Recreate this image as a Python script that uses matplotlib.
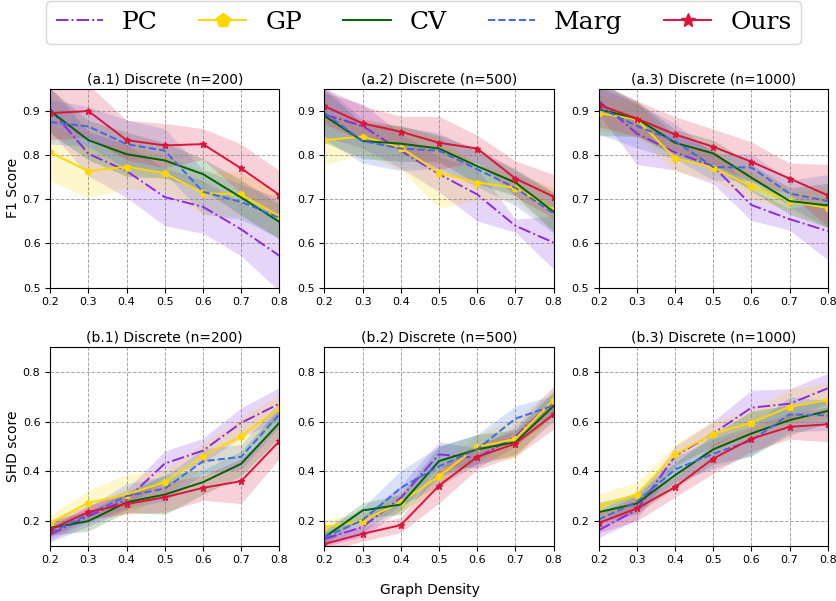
import matplotlib
matplotlib.use("Agg")
import matplotlib.pyplot as plt
import numpy as np

DENSITY = [0.2, 0.3, 0.4, 0.5, 0.6, 0.7, 0.8]
METHODS = ["PC", "GP", "CV", "Marg", "Ours"]

# F1 score, mean and std per method
F1_200_MEAN = {
    "PC": [0.905, 0.803, 0.764, 0.705, 0.683, 0.632, 0.572],
    "GP": [0.806, 0.764, 0.774, 0.759, 0.714, 0.711, 0.662],
    "CV": [0.900, 0.834, 0.802, 0.788, 0.757, 0.704, 0.649],
    "Marg": [0.875, 0.865, 0.825, 0.810, 0.717, 0.694, 0.658],
    "Ours": [0.895, 0.900, 0.834, 0.822, 0.825, 0.770, 0.710],
}
F1_200_STD = {
    "PC": [0.05, 0.05, 0.06, 0.065, 0.06, 0.06, 0.08],
    "GP": [0.065, 0.06, 0.05, 0.04, 0.05, 0.05, 0.05],
    "CV": [0.05, 0.045, 0.05, 0.04, 0.035, 0.04, 0.04],
    "Marg": [0.05, 0.045, 0.055, 0.05, 0.05, 0.04, 0.045],
    "Ours": [0.06, 0.06, 0.045, 0.05, 0.035, 0.055, 0.055],
}
F1_500_MEAN = {
    "PC": [0.892, 0.866, 0.810, 0.757, 0.711, 0.640, 0.602],
    "GP": [0.834, 0.842, 0.817, 0.760, 0.738, 0.726, 0.677],
    "CV": [0.889, 0.832, 0.826, 0.815, 0.775, 0.738, 0.672],
    "Marg": [0.896, 0.832, 0.815, 0.810, 0.768, 0.726, 0.668],
    "Ours": [0.911, 0.872, 0.853, 0.828, 0.815, 0.747, 0.706],
}
F1_500_STD = {
    "PC": [0.05, 0.05, 0.04, 0.04, 0.06, 0.015, 0.06],
    "GP": [0.055, 0.04, 0.05, 0.08, 0.04, 0.03, 0.05],
    "CV": [0.06, 0.04, 0.04, 0.03, 0.04, 0.03, 0.045],
    "Marg": [0.06, 0.05, 0.05, 0.04, 0.04, 0.04, 0.045],
    "Ours": [0.04, 0.04, 0.035, 0.06, 0.03, 0.04, 0.05],
}
F1_1000_MEAN = {
    "PC": [0.923, 0.849, 0.806, 0.775, 0.687, 0.655, 0.628],
    "GP": [0.895, 0.881, 0.793, 0.772, 0.730, 0.696, 0.680],
    "CV": [0.904, 0.883, 0.828, 0.804, 0.749, 0.696, 0.686],
    "Marg": [0.908, 0.866, 0.832, 0.773, 0.772, 0.713, 0.696],
    "Ours": [0.914, 0.883, 0.847, 0.819, 0.785, 0.747, 0.709],
}
F1_1000_STD = {
    "PC": [0.03, 0.07, 0.04, 0.04, 0.035, 0.025, 0.065],
    "GP": [0.04, 0.04, 0.03, 0.03, 0.03, 0.02, 0.045],
    "CV": [0.06, 0.04, 0.03, 0.03, 0.03, 0.03, 0.05],
    "Marg": [0.06, 0.05, 0.04, 0.03, 0.03, 0.03, 0.06],
    "Ours": [0.05, 0.04, 0.04, 0.04, 0.045, 0.035, 0.07],
}

# SHD score, mean and std per method
SHD_200_MEAN = {
    "PC": [0.145, 0.219, 0.286, 0.431, 0.483, 0.595, 0.672],
    "GP": [0.192, 0.273, 0.306, 0.356, 0.461, 0.542, 0.653],
    "CV": [0.172, 0.199, 0.275, 0.306, 0.356, 0.430, 0.595],
    "Marg": [0.152, 0.226, 0.300, 0.330, 0.440, 0.458, 0.629],
    "Ours": [0.165, 0.236, 0.268, 0.295, 0.333, 0.360, 0.521],
}
SHD_200_STD = {
    "PC": [0.03, 0.04, 0.04, 0.05, 0.05, 0.06, 0.065],
    "GP": [0.03, 0.05, 0.08, 0.05, 0.05, 0.07, 0.06],
    "CV": [0.03, 0.04, 0.04, 0.08, 0.05, 0.05, 0.06],
    "Marg": [0.03, 0.03, 0.05, 0.05, 0.05, 0.05, 0.05],
    "Ours": [0.03, 0.03, 0.04, 0.06, 0.05, 0.09, 0.07],
}
SHD_500_MEAN = {
    "PC": [0.127, 0.176, 0.293, 0.468, 0.454, 0.540, 0.683],
    "GP": [0.174, 0.201, 0.275, 0.380, 0.498, 0.530, 0.687],
    "CV": [0.134, 0.242, 0.266, 0.441, 0.488, 0.517, 0.663],
    "Marg": [0.134, 0.203, 0.333, 0.420, 0.488, 0.612, 0.665],
    "Ours": [0.107, 0.148, 0.183, 0.342, 0.458, 0.511, 0.629],
}
SHD_500_STD = {
    "PC": [0.03, 0.04, 0.05, 0.05, 0.04, 0.04, 0.06],
    "GP": [0.03, 0.03, 0.04, 0.05, 0.05, 0.08, 0.05],
    "CV": [0.03, 0.03, 0.04, 0.06, 0.06, 0.05, 0.06],
    "Marg": [0.03, 0.05, 0.07, 0.08, 0.06, 0.05, 0.04],
    "Ours": [0.03, 0.03, 0.03, 0.07, 0.05, 0.05, 0.06],
}
SHD_1000_MEAN = {
    "PC": [0.162, 0.245, 0.461, 0.552, 0.656, 0.672, 0.734],
    "GP": [0.259, 0.306, 0.468, 0.551, 0.595, 0.660, 0.686],
    "CV": [0.235, 0.270, 0.384, 0.488, 0.552, 0.606, 0.643],
    "Marg": [0.205, 0.277, 0.407, 0.470, 0.524, 0.629, 0.625],
    "Ours": [0.192, 0.250, 0.336, 0.451, 0.531, 0.579, 0.589],
}
SHD_1000_STD = {
    "PC": [0.03, 0.04, 0.04, 0.05, 0.07, 0.06, 0.06],
    "GP": [0.05, 0.05, 0.04, 0.05, 0.05, 0.07, 0.07],
    "CV": [0.04, 0.04, 0.05, 0.06, 0.09, 0.06, 0.05],
    "Marg": [0.04, 0.04, 0.05, 0.06, 0.06, 0.07, 0.06],
    "Ours": [0.04, 0.05, 0.04, 0.06, 0.05, 0.05, 0.07],
}

STYLES = {
    "PC": dict(color="#8a2be2", linestyle="-.", marker=None),
    "GP": dict(color="#ffd700", linestyle="-", marker="p"),
    "CV": dict(color="#006400", linestyle="-", marker=None),
    "Marg": dict(color="#4169e1", linestyle="--", marker=None),
    "Ours": dict(color="#dc143c", linestyle="-", marker="*"),
}

PANELS = [
    ("(a.1) Discrete (n=200)", F1_200_MEAN, F1_200_STD),
    ("(a.2) Discrete (n=500)", F1_500_MEAN, F1_500_STD),
    ("(a.3) Discrete (n=1000)", F1_1000_MEAN, F1_1000_STD),
    ("(b.1) Discrete (n=200)", SHD_200_MEAN, SHD_200_STD),
    ("(b.2) Discrete (n=500)", SHD_500_MEAN, SHD_500_STD),
    ("(b.3) Discrete (n=1000)", SHD_1000_MEAN, SHD_1000_STD),
]


def draw_panel(ax, title, means, stds):
    x = np.array(DENSITY)
    for name in METHODS:
        st = STYLES[name]
        m = np.array(means[name])
        s = np.array(stds[name])
        ax.fill_between(x, m - s, m + s, color=st["color"], alpha=0.2, linewidth=0)
        ax.plot(x, m, color=st["color"], linestyle=st["linestyle"], marker=st["marker"],
                markersize=5, linewidth=1.4, label=name)
    ax.set_title(title, fontsize=10, pad=4)
    ax.set_xlim(0.2, 0.8)
    ax.set_xticks(DENSITY)
    ax.grid(True, linestyle="--", color="gray", alpha=0.7, linewidth=0.7)
    ax.tick_params(labelsize=8)


def main():
    fig, axes = plt.subplots(2, 3, figsize=(8.37, 6.01), dpi=100)
    fig.subplots_adjust(left=0.06, right=0.989, top=0.852, bottom=0.092, wspace=0.197, hspace=0.30)

    for ax, (title, means, stds) in zip(axes.flat, PANELS):
        draw_panel(ax, title, means, stds)

    for ax in axes[0]:
        ax.set_ylim(0.5, 0.95)
        ax.set_yticks([0.5, 0.6, 0.7, 0.8, 0.9])
    for ax in axes[1]:
        ax.set_ylim(0.1, 0.9)
        ax.set_yticks([0.2, 0.4, 0.6, 0.8])

    axes[0, 0].set_ylabel("F1 Score", fontsize=10, labelpad=2)
    axes[1, 0].set_ylabel("SHD score", fontsize=10, labelpad=2)
    fig.text(0.514, 0.012, "Graph Density", ha="center", fontsize=10)

    handles, labels = axes[0, 0].get_legend_handles_labels()
    fig.legend(handles, labels, loc="upper center", bbox_to_anchor=(0.506, 0.998), ncol=5,
               prop={"family": "DejaVu Serif", "size": 18}, handlelength=1.9,
               handletextpad=0.75, columnspacing=1.65, markerscale=2.0,
               borderaxespad=0.0, frameon=True)

    fig.savefig("out.png", dpi=100)


if __name__ == "__main__":
    main()
